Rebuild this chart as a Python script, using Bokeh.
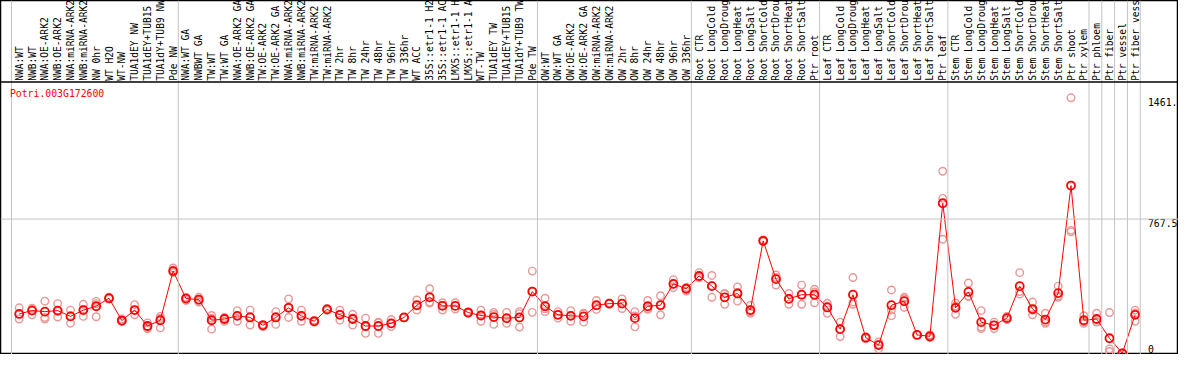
import math
from bokeh.plotting import figure
from bokeh.models import Range1d, Span, Label, ColumnDataSource
from bokeh.core.properties import value
from bokeh.embed import file_html
from bokeh.resources import INLINE

# ---------------- data ----------------
gene = "Potri.003G172600"

categories = [
    "NWA:WT", "NWB:WT", "NWA:OE-ARK2", "NWB:OE-ARK2", "NWA:miRNA-ARK2", "NWB:miRNA-ARK2",
    "NW 0hr", "WT H2O", "WT-NW", "TUA1dEY NW", "TUA1dEY+TUB15", "TUA1dY+TUB9 NW", "Pde NW",
    "NWA:WT GA", "NWBWT GA", "TW:WT", "TW:WT GA", "NWA:OE-ARK2 GA", "NWB:OE-ARK2 GA",
    "TW:OE-ARK2", "TW:OE-ARK2 GA", "NWA:miRNA-ARK2", "NWB:miRNA-ARK2", "TW:miRNA-ARK2",
    "TW:miRNA-ARK2", "TW 2hr", "TW 8hr", "TW 24hr", "TW 48hr", "TW 96hr", "TW 336hr",
    "WT ACC", "35S::etr1-1 H2", "35S::etr1-1 AC", "LMX5::etr1-1 H", "LMX5::etr1-1 A",
    "WT-TW", "TUA1dEY TW", "TUA1dEY+TUB15", "TUA1dY+TUB9 TW", "Pde TW",
    "OW:WT", "OW:WT GA", "OW:OE-ARK2", "OW:OE-ARK2 GA", "OW:miRNA-ARK2", "OW:miRNA-ARK2",
    "OW 2hr", "OW 8hr", "OW 24hr", "OW 48hr", "OW 96hr", "OW 336hr",
    "Root CTR", "Root LongCold", "Root LongDroug", "Root LongHeat", "Root LongSalt",
    "Root ShortCold", "Root ShortDrou", "Root ShortHeat", "Root ShortSalt", "Ptr root",
    "Leaf CTR", "Leaf LongCold", "Leaf LongDroug", "Leaf LongHeat", "Leaf LongSalt",
    "Leaf ShortCold", "Leaf ShortDrou", "Leaf ShortHeat", "Leaf ShortSalt", "Ptr leaf",
    "Stem CTR", "Stem LongCold", "Stem LongDroug", "Stem LongHeat", "Stem LongSalt",
    "Stem ShortCold", "Stem ShortDrou", "Stem ShortHeat", "Stem ShortSalt", "Ptr shoot",
    "Ptr xylem", "Ptr phloem", "Ptr fiber", "Ptr vessel", "Ptr fiber vess",
]

group_sizes = [13, 28, 12, 10, 10, 11, 1, 1, 1, 1]

means = [
    225, 244, 238, 244, 211, 247, 269, 315, 187, 247, 156, 189, 470,
    313, 307, 189, 196, 214, 205, 160, 205, 260, 214, 183, 251, 220, 196, 156, 156, 171,
    205, 275, 320, 271, 271, 233, 216, 207, 201, 205, 353,
    269, 220, 214, 211, 275, 284, 284, 201, 269, 275, 397, 369,
    442, 384, 320, 342, 247, 643, 424, 311, 335, 335,
    262, 138, 335, 89, 47, 275, 298, 105, 97, 858,
    260, 351, 178, 160, 201, 384, 253, 193, 344, 959,
    189, 196, 86, 0, 220,
]

rep1 = [
    260, 251, 298, 284, 247, 280, 297, 320, 196, 278, 174, 211, 488,
    320, 320, 216, 205, 244, 247, 165, 238, 311, 247, 189, 256, 247, 223, 201, 174, 193,
    205, 305, 369, 289, 289, 238, 247, 234, 234, 238, 470,
    315, 238, 244, 229, 302, 287, 311, 238, 302, 329, 421, 375,
    461, 445, 342, 380, 275, 648, 448, 342, 390, 366,
    286, 178, 433, 94, 65, 362, 320, 105, 105, 1041,
    287, 402, 244, 178, 210, 461, 293, 229, 384, 1461,
    215, 229, 233, 0, 247,
]

rep2 = [
    225, 258, 205, 240, 215, 250, 284, 310, 183, 247, 150, 200, 475,
    302, 302, 200, 200, 214, 210, 160, 210, 262, 212, 183, 251, 222, 200, 152, 178, 168,
    205, 272, 293, 275, 271, 233, 218, 222, 199, 227, 355,
    254, 220, 215, 226, 272, 284, 285, 214, 254, 276, 395, 376,
    432, 387, 338, 348, 237, 643, 434, 311, 335, 350,
    271, 140, 293, 89, 51, 247, 312, 105, 97, 886,
    270, 327, 150, 161, 201, 353, 246, 179, 328, 703,
    181, 181, 25, 0, 230,
]

rep3 = [
    196, 220, 196, 207, 172, 211, 209, 312, 183, 220, 140, 145, 462,
    318, 293, 138, 183, 183, 161, 153, 165, 205, 183, 178, 245, 189, 161, 114, 114, 153,
    205, 247, 287, 247, 253, 228, 183, 165, 171, 150, 234,
    238, 201, 183, 178, 251, 281, 256, 151, 251, 220, 375, 356,
    433, 320, 280, 298, 229, 638, 390, 280, 280, 289,
    229, 96, 280, 84, 25, 215, 262, 105, 89, 652,
    223, 324, 141, 141, 192, 338, 220, 171, 320, 694,
    171, 178, 10, 0, 183,
]

tick_values = [0, 767.5, 1461.0]

# ---------------- layout / style ----------------
W, H = 1178, 354
RED = "#FF0000"
PINK = "#E99797"
GRID = "#C4C4C4"
MONO = "DejaVu Sans Mono"

n = len(categories)
idx = list(range(n))

plot_bottom = -3.0
plot_top = 1552.0
label_band = (plot_top - plot_bottom) * 85.0 / 284.0
y_end = plot_top + label_band

p = figure(width=W, height=H, output_backend="svg", toolbar_location=None,
           x_axis_type=None, y_axis_type=None, min_border=0,
           x_range=Range1d(-1.46, n + 2.38), y_range=Range1d(plot_bottom - 4, y_end))
p.grid.visible = False
p.outline_line_color = "black"
p.outline_line_width = 1.5
p.background_fill_color = "white"
p.border_fill_color = "white"

# group separators (vertical)
b = -0.5
bounds = [b]
for g in group_sizes:
    b += g
    bounds.append(b)
for bx in bounds:
    p.add_layout(Span(location=bx - 0.1, dimension="height", line_color=GRID, line_width=1))

# horizontal mid gridline
p.add_layout(Span(location=tick_values[1], dimension="width", line_color=GRID, line_width=1))

# separator between label band and plot
p.add_layout(Span(location=plot_top, dimension="width", line_color="black", line_width=1.5))

# category labels (vertical)
lab_src = ColumnDataSource(dict(x=idx, y=[plot_top + 6] * n, t=categories))
p.text(x="x", y="y", text="t", source=lab_src, angle=math.pi / 2,
       text_align="left", text_baseline="middle",
       text_font=value(MONO), text_font_size="9.6px", text_color="black")

# replicates
rx = idx * 3
ry = rep1 + rep2 + rep3
p.scatter(rx, ry, marker="circle", size=7.5, fill_color=None,
          line_color=PINK, line_width=1.4)

# mean line and points
p.line(idx, means, line_color=RED, line_width=1)
p.scatter(idx, means, marker="circle", size=8, fill_color=None,
          line_color=RED, line_width=1.8)

# tick labels at right
tick_text = [str(float(v))[:5] if v != 0 else "0" for v in tick_values]
tick_base = ["bottom" if v == 0 else "top" for v in tick_values]
tick_src = ColumnDataSource(dict(x=[n] * len(tick_values), y=tick_values,
                                 t=tick_text, b=tick_base))
p.text(x="x", y="y", text="t", source=tick_src, text_align="left",
       text_baseline="b", text_font=value(MONO), text_font_size="9.8px",
       text_color="black")

# gene title
p.add_layout(Label(x=9.4, y=H - 97 * H / 370.0, x_units="screen", y_units="screen",
                   text=gene, text_color=RED, text_font=MONO, text_font_size="9.8px",
                   text_baseline="middle", text_align="left"))

open("out.html", "w").write(file_html(p, INLINE))
